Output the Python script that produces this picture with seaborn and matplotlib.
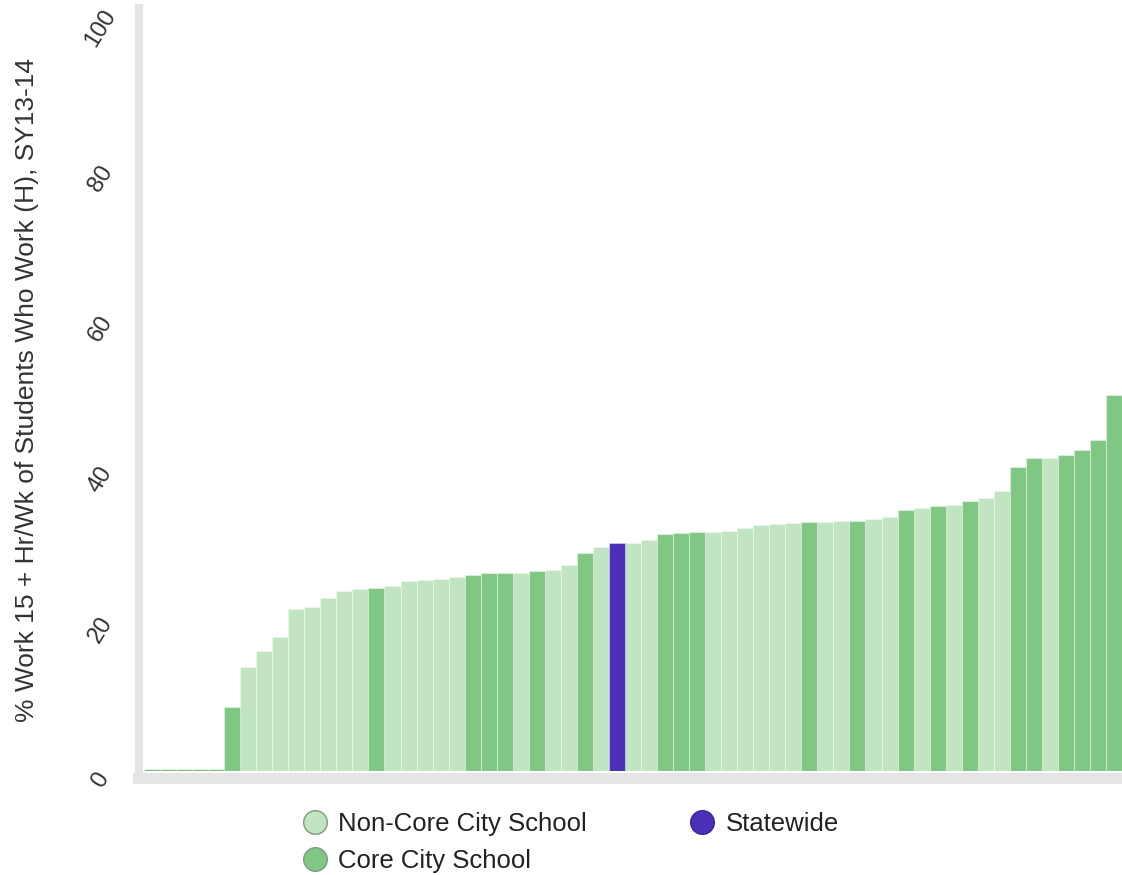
import matplotlib
matplotlib.use("Agg")
import matplotlib.pyplot as plt
import matplotlib.transforms as mtransforms
from matplotlib.lines import Line2D
import seaborn as sns
import pandas as pd

# ---- data ----
values = [0.3, 0.3, 0.3, 0.3, 0.3, 8.5, 13.9, 16.0, 17.8, 21.5,
          21.85, 23.0, 23.9, 24.2, 24.4, 24.6, 25.3, 25.4, 25.6, 25.85,
          26.1, 26.3, 26.3, 26.3, 26.6, 26.7, 27.4, 29.0, 29.8, 30.3,
          30.3, 30.7, 31.5, 31.6, 31.8, 31.8, 31.95, 32.3, 32.7, 32.9,
          33.0, 33.1, 33.15, 33.3, 33.3, 33.5, 33.8, 34.7, 35.0, 35.3,
          35.4, 35.9, 36.3, 37.3, 40.4, 41.6, 41.6, 42.0, 42.7, 44.0,
          50.0]
cat_codes = ("CCCCCC" "NNNNNNNN" "C" "NNNNN" "CCC" "N" "C" "NN" "C" "N" "S"
             "NN" "CCC" "NNNNNN" "C" "NN" "C" "NN" "C" "N" "C" "N" "C" "NN"
             "CC" "N" "CCCC")
cat_names = {"N": "Non-Core City School", "C": "Core City School", "S": "Statewide"}
categories = [cat_names[c] for c in cat_codes]
legend_order = ["Non-Core City School", "Core City School", "Statewide"]
colors = {"Non-Core City School": "#c1e4c2",
          "Core City School": "#81c784",
          "Statewide": "#4b2fb6"}
y_ticks = [0, 20, 40, 60, 80, 100]
y_label = "% Work 15 + Hr/Wk of Students Who Work (H), SY13-14"

df = pd.DataFrame({"school": [str(i) for i in range(len(values))],
                   "value": values, "category": categories})

sns.set_theme(style="white")
plt.rcParams["font.family"] = ["Liberation Sans", "DejaVu Sans"]

fig = plt.figure(figsize=(11.22, 8.75), dpi=100)
ax = fig.add_axes([144 / 1122, 104 / 875, (1122 - 144) / 1122, (771 - 8) / 875])

sns.barplot(data=df, x="school", y="value", hue="category",
            hue_order=legend_order, palette=colors, dodge=False,
            width=1.0, saturation=1, legend=False, ax=ax)
for p in ax.patches:
    p.set_edgecolor((1, 1, 1, 0.35))
    p.set_linewidth(0.8)

ax.set_xlim(-0.5, len(values) - 0.5)
ax.set_ylim(0, 101.5)
ax.set_xticks([])
ax.set_xlabel("")
ax.set_ylabel(y_label, fontsize=19, color="#333333", labelpad=30)
ax.set_yticks(y_ticks)
ax.set_yticklabels([str(t) for t in y_ticks])
ax.tick_params(axis="y", length=0, pad=27.5, labelsize=17,
               labelcolor="#333333")

for s in ["top", "right"]:
    ax.spines[s].set_visible(False)
gray = "#e5e5e5"
ax.spines["left"].set_position(("outward", 3.6))
ax.spines["left"].set_linewidth(5.8)
ax.spines["left"].set_color(gray)
ax.spines["left"].set_bounds(-1.1, 101.5)
ax.spines["bottom"].set_position(("outward", 4.7))
ax.spines["bottom"].set_linewidth(7.9)
ax.spines["bottom"].set_color(gray)
ax.spines["bottom"].set_bounds(-0.9, len(values) - 0.5)

offset = mtransforms.ScaledTranslation(0, -9 / 100, fig.dpi_scale_trans)
for tick in ax.yaxis.get_major_ticks():
    lab = tick.label1
    lab.set_rotation(58)
    lab.set_ha("center")
    lab.set_va("center")
    lab.set_transform(lab.get_transform() + offset)

handles = [Line2D([], [], linestyle="none", marker="o", markersize=17,
                  markerfacecolor=colors[n],
                  markeredgecolor="#7f9a80" if n != "Statewide" else "#3a2490",
                  markeredgewidth=1.0, label=n) for n in legend_order]
fig.legend(handles=handles, loc="upper left",
           bbox_to_anchor=(302 / 1122, 1 - 812 / 875), ncol=2,
           frameon=False, fontsize=18.5, handlelength=1.0,
           handletextpad=0.4, columnspacing=4.0, labelspacing=0.5,
           borderpad=0, borderaxespad=0, labelcolor="#222222")

fig.savefig("out.png", dpi=100)
